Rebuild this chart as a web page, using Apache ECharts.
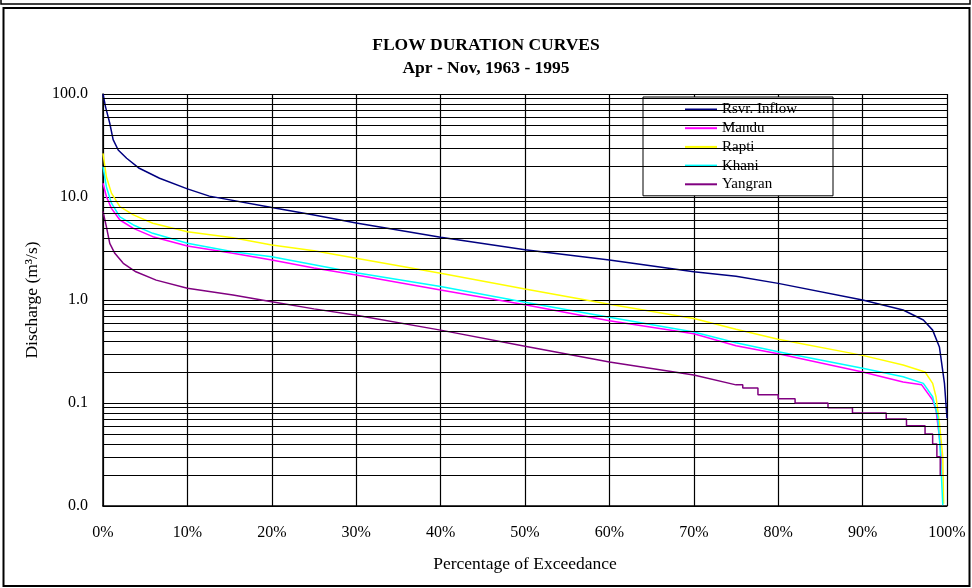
<!DOCTYPE html>
<html>
<head>
<meta charset="utf-8">
<script src="https://cdn.jsdelivr.net/npm/echarts@6/dist/echarts.min.js"></script>
<style>
  html, body { margin: 0; padding: 0; background: #fff; }
  #main { width: 972px; height: 588px; }
</style>
</head>
<body>
<div id="main"></div>
<script>
// names shown in legend
const seriesNames = ['Rsvr. Inflow', 'Mandu', 'Rapti', 'Khani', 'Yangran'];
const seriesColors = ['#000080', '#ff00ff', '#ffff00', '#00ffff', '#800080'];

// [percent exceedance, discharge m3/s]
const inflow = [[0,100],[0.3,75],[0.8,52],[1.2,36],[1.8,28.6],[2.8,23.8],[4.3,19],[6.7,15.2],[10,12],[12.6,10.2],
  [20,7.9],[25,6.7],[30,5.6],[40,4.06],[50,3.08],[60,2.44],[70,1.88],[75,1.7],[80,1.45],[90,1.0],
  [94.8,0.8],[97.2,0.64],[98.3,0.51],[99.1,0.35],[99.7,0.155],[100,0.071]];
const mandu = [[0,13.6],[0.4,10.1],[1,7.76],[2,5.98],[3.6,4.96],[5.9,4.12],[10,3.34],[15.4,2.84],[20,2.44],[25,2.05],
  [30,1.75],[40,1.25],[50,0.9],[60,0.63],[70,0.47],[75,0.36],[80,0.3],[90,0.2],[94.8,0.16],[97,0.15],
  [98.3,0.107],[98.7,0.085],[99.2,0.04],[99.4,0.02]];
const rapti = [[0,26.5],[0.4,15.7],[1,10.9],[2,8.05],[3.6,6.7],[5.9,5.56],[10,4.6],[15.4,4.03],[20,3.42],[25,3.0],
  [30,2.54],[40,1.82],[50,1.28],[60,0.91],[70,0.66],[75,0.52],[80,0.415],[90,0.29],[94.8,0.234],[97.4,0.2],
  [98.3,0.155],[98.7,0.115],[99.1,0.064],[99.5,0.03],[99.6,0.0105]];
const khani = [[0,19.7],[0.4,12.6],[1,8.7],[2,6.4],[3.6,5.35],[5.9,4.44],[10,3.55],[15.4,2.94],[20,2.63],[25,2.2],
  [30,1.84],[40,1.35],[50,0.95],[60,0.68],[70,0.49],[75,0.385],[80,0.315],[90,0.217],[94.8,0.18],[97.2,0.155],
  [98.3,0.115],[98.9,0.074],[99.2,0.035],[99.5,0.0102]];
const yangran = [[0,7.2],[0.4,5.15],[0.8,3.55],[1.4,2.84],[2.4,2.27],[3.9,1.88],[6.3,1.56],[10,1.3],[15.4,1.12],[20,0.96],
  [25,0.82],[30,0.71],[40,0.51],[50,0.355],[60,0.25],[70,0.187],[75,0.15]];
// stair part of Yangran (values rounded to 0.01)
const yangranStepPct = [75.8, 77.6, 80, 82, 85.9, 88.8, 92.8, 95.2, 97.4, 98.3, 98.8, 99.2];
const yangranStepQ = [0.14, 0.12, 0.11, 0.10, 0.09, 0.08, 0.07, 0.06, 0.05, 0.04, 0.03, 0.02];

let yangranAll = yangran.slice();
let lastQ = yangran[yangran.length - 1][1];
yangranStepPct.forEach((p, i) => {
  yangranAll.push([p, lastQ]);
  yangranAll.push([p, yangranStepQ[i]]);
  lastQ = yangranStepQ[i];
});

const seriesData = [inflow, mandu, rapti, khani, yangranAll];

// minor log grid lines 2..9 of every decade
let minorLines = [];
[0.01, 0.1, 1, 10].forEach(d => {
  for (let k = 2; k <= 9; k++) {
    minorLines.push({ yAxis: +(d * k).toPrecision(3) });
  }
});

const font = 'Liberation Serif, Times New Roman, serif';
let myChart = echarts.init(document.getElementById('main'));

let series = seriesNames.map((name, i) => ({
  name: name,
  type: 'line',
  data: seriesData[i],
  symbol: 'none',
  z: 3,
  lineStyle: { color: seriesColors[i], width: 1.5 },
  itemStyle: { color: seriesColors[i] },
  animation: false
}));
// carrier for the minor grid lines
series.push({
  type: 'line',
  data: [],
  symbol: 'none',
  z: 1,
  silent: true,
  animation: false,
  markLine: {
    silent: true,
    symbol: 'none',
    animation: false,
    label: { show: false },
    lineStyle: { color: '#000', width: 1, type: 'solid' },
    data: minorLines
  }
});

let option = {
  backgroundColor: '#fff',
  animation: false,
  title: {
    text: 'FLOW DURATION CURVES',
    subtext: 'Apr - Nov, 1963 - 1995',
    left: 481,
    top: 31,
    textAlign: 'center',
    itemGap: 5,
    textStyle: { fontFamily: font, fontSize: 17.5, fontWeight: 'bold', color: '#000' },
    subtextStyle: { fontFamily: font, fontSize: 17.5, fontWeight: 'bold', color: '#000' }
  },
  legend: {
    data: seriesNames,
    orient: 'vertical',
    left: 643,
    top: 97,
    padding: [5, 36, 4, 42],
    icon: 'rect',
    itemWidth: 32,
    itemHeight: 2,
    itemGap: 3.7,
    backgroundColor: '#fff',
    borderColor: '#000',
    borderWidth: 1,
    borderRadius: 0,
    textStyle: { fontFamily: font, fontSize: 15, lineHeight: 15, color: '#000' }
  },
  grid: { left: 103, right: 25, top: 94, bottom: 82 },
  xAxis: {
    type: 'value',
    min: 0,
    max: 100,
    interval: 10,
    name: 'Percentage of Exceedance',
    nameLocation: 'middle',
    nameGap: 49,
    nameTextStyle: { fontFamily: font, fontSize: 17.5, color: '#000' },
    axisLine: { lineStyle: { color: '#000', width: 1.5 } },
    axisTick: { show: false },
    axisLabel: { formatter: '{value}%', margin: 19, fontFamily: font, fontSize: 16, color: '#000' },
    splitLine: { show: true, lineStyle: { color: '#000', width: 1.2 } }
  },
  yAxis: {
    type: 'log',
    logBase: 10,
    min: 0.01,
    max: 100,
    name: 'Discharge (m³/s)',
    nameLocation: 'middle',
    nameGap: 62,
    nameTextStyle: { fontFamily: font, fontSize: 17.5, color: '#000' },
    axisLine: { lineStyle: { color: '#000', width: 1.5 } },
    axisTick: { show: false },
    axisLabel: {
      formatter: v => (+v).toFixed(1),
      margin: 15,
      fontFamily: font,
      fontSize: 16,
      color: '#000'
    },
    splitLine: { show: true, lineStyle: { color: '#000', width: 1.2 } }
  },
  graphic: [
    { type: 'rect', shape: { x: 1, y: -6, width: 969, height: 10 }, style: { fill: 'none', stroke: '#000', lineWidth: 1.5 } },
    { type: 'rect', shape: { x: 3.5, y: 8, width: 966, height: 578 }, style: { fill: 'none', stroke: '#000', lineWidth: 2 } }
  ],
  series: series
};
myChart.setOption(option);
</script>
</body>
</html>
